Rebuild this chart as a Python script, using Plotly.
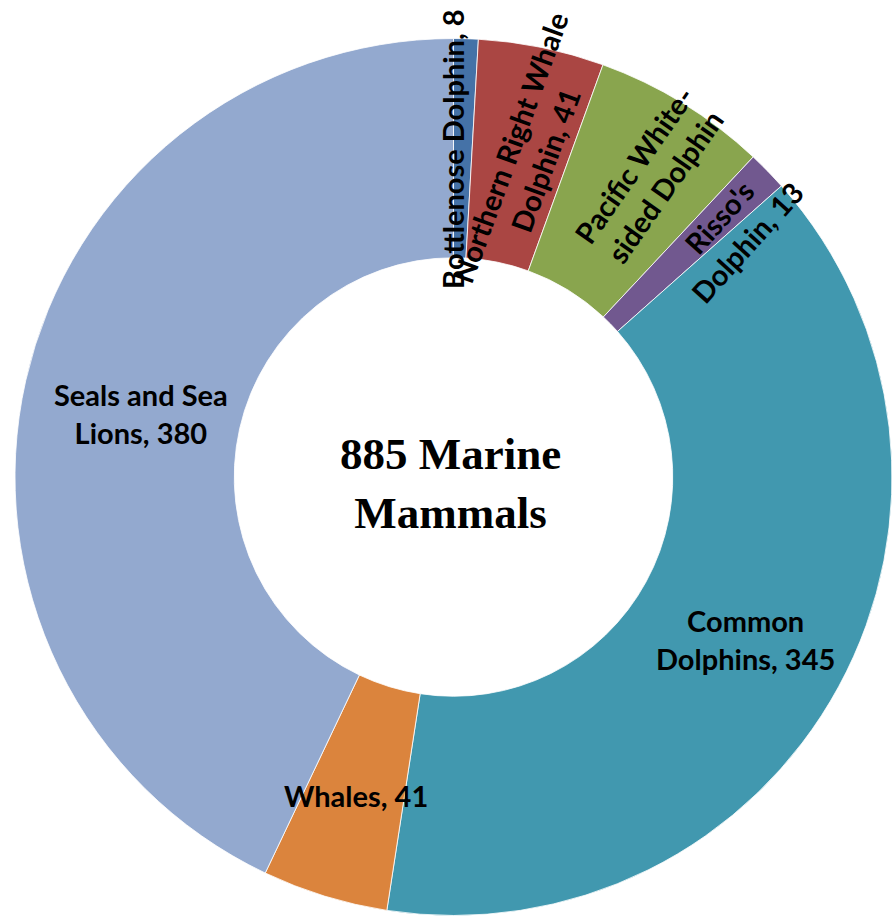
import math
import plotly.graph_objects as go

# ---- data ----
categories = ["Bottlenose Dolphin", "Northern Right Whale Dolphin", "Pacific White-sided Dolphin",
              "Risso's Dolphin", "Common Dolphins", "Whales", "Seals and Sea Lions"]
values = [8, 41, 57, 13, 345, 41, 380]
label_texts = ["Bottlenose Dolphin, 8", "Northern Right Whale<br>Dolphin, 41", "Pacific White-<br>sided Dolphin",
               "Risso's<br>Dolphin, 13", "Common<br>Dolphins, 345", "Whales, 41", "Seals and Sea<br>Lions, 380"]
center_text = "885 Marine<br>Mammals"

# ---- style ----
colors = ["#4572A7", "#AA4643", "#89A54E", "#71588F", "#4198AF", "#DB843D", "#93A9CF"]
text_angles = [-90, -70, -55, -48, 0, 0, 0]
label_r = [0.748, 0.755, 0.82, 0.852, 0.763, 0.76, 0.727]   # fraction of outer radius
label_dtheta = [-1.9, 1.25, 1.5, 2.7, 0.5, 0.0, -1.2]       # degrees nudge from slice middle

W, H = 892, 919
dom_x = [15 / W, 1.0]
dom_y = [2 / H, 882 / H]
rotation = 0

fig = go.Figure(go.Pie(
    labels=categories, values=values, sort=False, direction="clockwise",
    rotation=rotation, hole=0.5, textinfo="none", hoverinfo="label+value",
    marker=dict(colors=colors, line=dict(color="rgba(255,255,255,0.8)", width=1)),
    domain=dict(x=dom_x, y=dom_y), showlegend=False,
))

# pie geometry in pixels
dw = (dom_x[1] - dom_x[0]) * W
dh = (dom_y[1] - dom_y[0]) * H
R = min(dw, dh) / 2
cx = dom_x[0] * W + dw / 2
cy = H - (dom_y[0] * H + dh / 2)

total = sum(values)
annotations = []
cum = 0.0
for v, txt, ang, rf, dt in zip(values, label_texts, text_angles, label_r, label_dtheta):
    mid = rotation + (cum + v / 2) / total * 360 + dt
    cum += v
    a = math.radians(mid)
    px = cx + rf * R * math.sin(a)
    py = cy - rf * R * math.cos(a)
    annotations.append(dict(
        x=px / W, y=1 - py / H, xref="paper", yref="paper", text=txt, showarrow=False,
        textangle=ang, xanchor="center", yanchor="middle", align="center",
        font=dict(family="Lato", size=29, color="black", weight="bold"),
    ))

annotations.append(dict(
    x=cx / W, y=1 - cy / H, xref="paper", yref="paper", text=center_text, showarrow=False,
    xanchor="center", yanchor="middle", align="center", yshift=-7, xshift=-3,
    font=dict(family="Liberation Serif", size=45, color="black", weight="bold"),
))

fig.update_layout(width=W, height=H, margin=dict(l=0, r=0, t=0, b=0),
                  paper_bgcolor="white", plot_bgcolor="white", annotations=annotations)
fig.write_html("out.html", config={"displayModeBar": False},
               post_script="document.body.style.margin='0';document.body.style.overflow='hidden';")
